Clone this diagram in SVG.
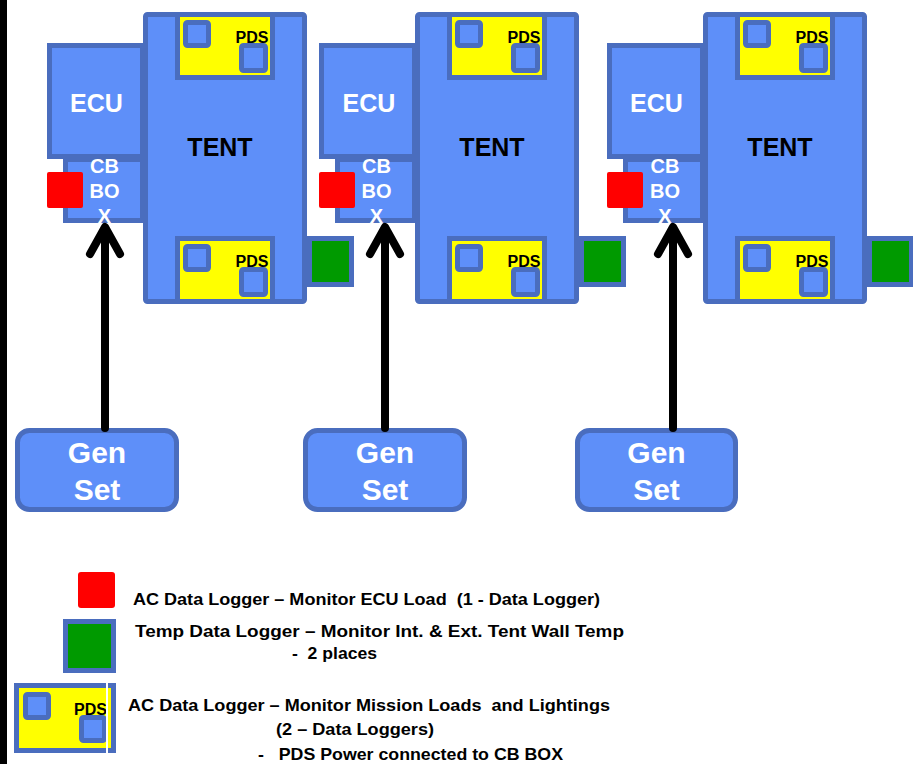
<svg xmlns="http://www.w3.org/2000/svg" xmlns:xlink="http://www.w3.org/1999/xlink" width="913" height="764" viewBox="0 0 913 764">
<style>
.box{fill:#5E8FF9;stroke:#4A6DBE;stroke-width:5}
.pds{fill:#FFFF00;stroke:#4A6DBE;stroke-width:5}
.grn{fill:#009A00;stroke:#4A6DBE;stroke-width:5}
.red{fill:#FF0000}
.wt{font-family:"Liberation Sans",Arial,sans-serif;font-weight:bold;fill:#FFFFFF;text-anchor:middle}
.bt{font-family:"Liberation Sans",Arial,sans-serif;font-weight:bold;fill:#000000}
.lg{font-family:"Liberation Sans",Arial,sans-serif;font-weight:bold;fill:#000000;font-size:17px;white-space:pre}
.conn{stroke:#000000;stroke-width:8;fill:none;stroke-linecap:round;stroke-linejoin:round}
</style>
<defs>
<g id="pdsp">
<rect x="2.5" y="2.5" width="95" height="63" class="pds"/>
<rect x="10.5" y="10.5" width="23" height="23" rx="2" class="box"/>
<rect x="66.5" y="33.5" width="24" height="25" rx="2" class="box"/>
<text x="77" y="31" class="bt" font-size="16" text-anchor="middle">PDS</text>
</g>
</defs>
<rect x="0" y="0" width="913" height="764" fill="#FFFFFF"/>
<rect x="0" y="0" width="7" height="764" fill="#000000"/>

<!-- Set 1 -->
<g id="green1"><rect x="309.5" y="238.5" width="42" height="46" class="grn"/></g>
<g id="cb1"><rect x="65.5" y="159.5" width="77" height="61" class="box"/>
<text class="wt" font-size="20"><tspan x="104.5" y="173">CB</tspan><tspan x="104.5" y="198">BO</tspan><tspan x="104.5" y="223">X</tspan></text></g>
<g id="ecu1"><rect x="49.5" y="45.5" width="93" height="111" class="box"/><text x="96.5" y="112" class="wt" font-size="25">ECU</text></g>
<g id="tent1"><rect x="145.5" y="14.5" width="159" height="287" rx="2" class="box"/><text x="220" y="156" class="bt" font-size="25" text-anchor="middle">TENT</text></g>
<g id="pds1top"><use xlink:href="#pdsp" transform="translate(175,12)"/></g>
<g id="pds1bot"><use xlink:href="#pdsp" transform="translate(175,236)"/></g>
<g id="red1"><rect x="47" y="172" width="36" height="36" rx="2" class="red"/></g>
<g id="gen1"><rect x="17.5" y="430.5" width="159" height="79" rx="12" class="box"/>
<text class="wt" font-size="30"><tspan x="97" y="463">Gen</tspan><tspan x="97" y="500">Set</tspan></text></g>

<!-- Set 2 -->
<g id="green2"><rect x="581.5" y="238.5" width="42" height="46" class="grn"/></g>
<g id="cb2"><rect x="337.5" y="159.5" width="77" height="61" class="box"/>
<text class="wt" font-size="20"><tspan x="376.5" y="173">CB</tspan><tspan x="376.5" y="198">BO</tspan><tspan x="376.5" y="223">X</tspan></text></g>
<g id="ecu2"><rect x="321.5" y="45.5" width="93" height="111" class="box"/><text x="369" y="112" class="wt" font-size="25">ECU</text></g>
<g id="tent2"><rect x="417.5" y="14.5" width="159" height="287" rx="2" class="box"/><text x="492" y="156" class="bt" font-size="25" text-anchor="middle">TENT</text></g>
<g id="pds2top"><use xlink:href="#pdsp" transform="translate(447,12)"/></g>
<g id="pds2bot"><use xlink:href="#pdsp" transform="translate(447,236)"/></g>
<g id="red2"><rect x="319" y="172" width="36" height="36" rx="2" class="red"/></g>
<g id="gen2"><rect x="305.5" y="430.5" width="159" height="79" rx="12" class="box"/>
<text class="wt" font-size="30"><tspan x="385" y="463">Gen</tspan><tspan x="385" y="500">Set</tspan></text></g>

<!-- Set 3 -->
<g id="green3"><rect x="869.5" y="238.5" width="42" height="46" class="grn"/></g>
<g id="cb3"><rect x="625.5" y="159.5" width="77" height="61" class="box"/>
<text class="wt" font-size="20"><tspan x="665" y="173">CB</tspan><tspan x="665" y="198">BO</tspan><tspan x="665" y="223">X</tspan></text></g>
<g id="ecu3"><rect x="609.5" y="45.5" width="93" height="111" class="box"/><text x="656.5" y="112" class="wt" font-size="25">ECU</text></g>
<g id="tent3"><rect x="705.5" y="14.5" width="159" height="287" rx="2" class="box"/><text x="780" y="156" class="bt" font-size="25" text-anchor="middle">TENT</text></g>
<g id="pds3top"><use xlink:href="#pdsp" transform="translate(735,12)"/></g>
<g id="pds3bot"><use xlink:href="#pdsp" transform="translate(735,236)"/></g>
<g id="red3"><rect x="607" y="172" width="36" height="36" rx="2" class="red"/></g>
<g id="gen3"><rect x="577.5" y="430.5" width="158" height="79" rx="12" class="box"/>
<text class="wt" font-size="30"><tspan x="656.5" y="463">Gen</tspan><tspan x="656.5" y="500">Set</tspan></text></g>

<!-- Connectors -->
<g id="connectors">
<path class="conn" d="M105 428 V229 M90 254 L105 227 L120 254"/>
<path class="conn" d="M385 428 V229 M370 254 L385 227 L400 254"/>
<path class="conn" d="M673 428 V229 M658 254 L673 227 L688 254"/>
</g>

<!-- Legend -->
<g id="legend-red"><rect x="78" y="572" width="37" height="36" rx="3" class="red"/></g>
<g id="legend-green"><rect x="65.5" y="621.5" width="48" height="49" class="grn"/></g>
<g id="legend-pds">
<rect x="16.5" y="685.5" width="97" height="65" class="pds"/>
<rect x="25.5" y="694.5" width="23" height="23" rx="2" class="box"/>
<rect x="81.5" y="717.5" width="23" height="23" rx="2" class="box"/>
<text x="74" y="715" class="bt" font-size="16">PDS</text>
<rect x="106" y="683" width="2" height="70" fill="#FFFFFF"/>
</g>
<g id="legend-text">
<text class="lg" x="133" y="605" textLength="467" lengthAdjust="spacingAndGlyphs">AC Data Logger – Monitor ECU Load  (1 - Data Logger)</text>
<text class="lg" x="135" y="637" textLength="489" lengthAdjust="spacingAndGlyphs">Temp Data Logger – Monitor Int. &amp; Ext. Tent Wall Temp</text>
<text class="lg" x="292" y="659" textLength="85" lengthAdjust="spacingAndGlyphs">-  2 places</text>
<text class="lg" x="128" y="711" textLength="482" lengthAdjust="spacingAndGlyphs">AC Data Logger – Monitor Mission Loads  and Lightings</text>
<text class="lg" x="276" y="735" textLength="158" lengthAdjust="spacingAndGlyphs">(2 – Data Loggers)</text>
<text class="lg" x="258" y="760" textLength="305" lengthAdjust="spacingAndGlyphs">-   PDS Power connected to CB BOX</text>
</g>
</svg>
